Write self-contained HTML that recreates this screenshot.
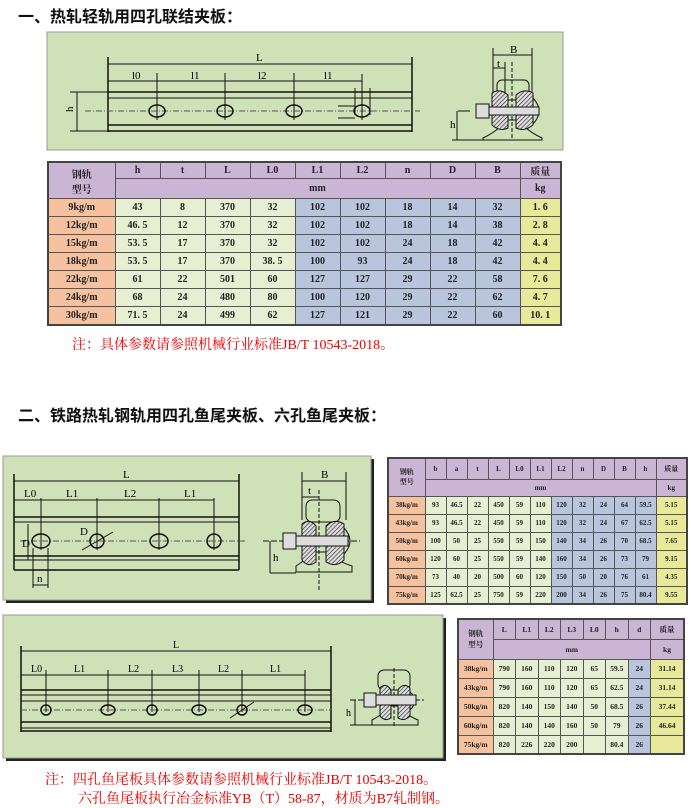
<!DOCTYPE html>
<html><head><meta charset="utf-8"><style>
body{margin:0;width:691px;height:808px;background:#fff;position:relative;overflow:hidden;font-family:"Liberation Serif","Noto Serif CJK SC",serif}
.t{position:absolute;font-family:"Liberation Sans","Noto Sans CJK SC",sans-serif;font-weight:bold;font-size:16px;color:#111;white-space:nowrap}
.n{position:absolute;color:#e00;font-size:14px;white-space:nowrap;font-family:"Liberation Serif","Noto Serif CJK SC",serif}
table{position:absolute;border-collapse:collapse;table-layout:fixed;font-family:"Liberation Serif","Noto Serif CJK SC",serif;font-weight:bold;color:#222;text-align:center}
td{border:1px solid #555;padding:0;overflow:hidden;white-space:nowrap}
.p{background:#cbb5d5}.o{background:#f6c19f}.g{background:#e7efd3}.b{background:#b8c5dd}.y{background:#e9ea99}
#t1{left:47px;top:161px;width:515px;font-size:10px;border:2px solid #444}
#t2{left:387px;top:457px;width:301px;font-size:7px;border:2px solid #444}
#t3{left:457px;top:618px;width:228px;font-size:7.5px;border:2px solid #444}
</style></head><body>
<div class="t" style="left:18px;top:3px">一、热轧轻轨用四孔联结夹板：</div>
<div class="t" style="left:18px;top:402px">二、铁路热轧钢轨用四孔鱼尾夹板、六孔鱼尾夹板：</div>

<svg width="691" height="808" style="position:absolute;left:0;top:0" font-family="Liberation Serif" font-size="10">
<defs><pattern id="h" width="3" height="3" patternUnits="userSpaceOnUse" patternTransform="rotate(45)"><rect width="3" height="3" fill="#ddd"/><line x1="0" y1="0" x2="0" y2="3" stroke="#222" stroke-width="1.2"/></pattern></defs>
<!-- panel 1 -->
<rect x="47" y="32" width="516" height="118" fill="#cfe1b6" stroke="#999"/>
<g stroke="#111" fill="none" stroke-width="1">
<line x1="108" y1="57" x2="108" y2="132" stroke-width="1.5"/><line x1="412" y1="57" x2="412" y2="132" stroke-width="1.5"/>
<line x1="108" y1="64" x2="412" y2="64"/>
<line x1="108" y1="81" x2="362" y2="81"/>
<line x1="108" y1="92" x2="412" y2="92" stroke-width="1.5"/><line x1="108" y1="98" x2="412" y2="98"/>
<line x1="108" y1="125" x2="412" y2="125" stroke-width="1.5"/><line x1="108" y1="131" x2="412" y2="131" stroke-width="1.5"/>
<line x1="70" y1="92" x2="108" y2="92"/><line x1="70" y1="131" x2="108" y2="131"/><line x1="77" y1="92" x2="77" y2="131"/>
<line x1="85" y1="111" x2="420" y2="111" stroke-dasharray="6,2,1,2" stroke="#555"/>
<line x1="157" y1="73" x2="157" y2="120"/><line x1="225" y1="73" x2="225" y2="120"/><line x1="294" y1="73" x2="294" y2="120"/><line x1="362" y1="74" x2="362" y2="120"/>
<ellipse cx="157" cy="111" rx="8" ry="6" stroke-width="1.5"/><ellipse cx="225" cy="111" rx="8" ry="6" stroke-width="1.5"/><ellipse cx="294" cy="111" rx="8" ry="6" stroke-width="1.5"/><ellipse cx="362" cy="111" rx="8" ry="6" stroke-width="1.5"/>
<line x1="355" y1="88" x2="355" y2="115"/><line x1="370" y1="88" x2="370" y2="115"/>
<line x1="338" y1="106" x2="355" y2="106"/><line x1="338" y1="118" x2="355" y2="118"/>
<!-- section 1 -->
<line x1="493" y1="48" x2="493" y2="100"/><line x1="532" y1="48" x2="532" y2="100"/><line x1="493" y1="55" x2="532" y2="55"/>
<line x1="505" y1="62" x2="505" y2="96"/><line x1="493" y1="68" x2="505" y2="68"/>
<line x1="512" y1="62" x2="512" y2="140" stroke-dasharray="4,2"/>
<rect x="497" y="80" width="32" height="20" rx="5"/>
<path d="M483 138 Q500 130 505 120 L520 120 Q525 130 542 138 L542 140 L483 140Z"/>
<line x1="452" y1="140" x2="483" y2="140"/><line x1="458" y1="111" x2="470" y2="111"/><line x1="457" y1="111" x2="457" y2="140"/>
</g>
<path d="M492 93 Q500 88 508 95 L508 128 Q500 132 492 125Z" fill="url(#h)" stroke="#111"/>
<path d="M516 95 Q524 88 533 93 L533 125 Q524 132 516 128Z" fill="url(#h)" stroke="#111"/>
<path d="M533 98 Q545 111 533 124" fill="none" stroke="#111"/>
<rect x="476" y="104" width="13" height="14" fill="#ddd" stroke="#111"/><rect x="489" y="107" width="50" height="8" fill="#ddd" stroke="#111"/>
<g font-size="11"><text x="256" y="61">L</text><text x="132" y="79">l0</text><text x="191" y="79">l1</text><text x="258" y="79">l2</text><text x="324" y="79">l1</text><text x="510" y="53">B</text><text x="497" y="67">t</text><text x="70" y="115" transform="rotate(-90 70 112)">h</text><text x="450" y="128">h</text></g>

<!-- panel 2 -->
<rect x="6" y="459" width="368" height="144" fill="#222"/>
<rect x="3" y="456" width="368" height="144" fill="#cfe1b6" stroke="#999"/>
<g stroke="#111" fill="none">
<line x1="14" y1="474" x2="14" y2="570" stroke-width="1.5"/><line x1="239" y1="474" x2="239" y2="570" stroke-width="1.5"/>
<line x1="14" y1="481" x2="239" y2="481"/><line x1="14" y1="500" x2="214" y2="500"/>
<line x1="14" y1="517" x2="239" y2="517" stroke-width="1.5"/><line x1="14" y1="522" x2="239" y2="522"/>
<line x1="14" y1="556" x2="239" y2="556" stroke-width="1.5"/><line x1="14" y1="560" x2="239" y2="560"/><line x1="14" y1="570" x2="239" y2="570" stroke-width="1.5"/>
<line x1="20" y1="541" x2="245" y2="541" stroke-dasharray="6,2,1,2" stroke="#555"/>
<line x1="41" y1="498" x2="41" y2="550"/><line x1="97" y1="498" x2="97" y2="550"/><line x1="159" y1="498" x2="159" y2="550"/><line x1="214" y1="498" x2="214" y2="550"/>
<ellipse cx="41" cy="541" rx="9" ry="7" stroke-width="1.5"/><circle cx="97" cy="541" r="7" stroke-width="1.5"/><ellipse cx="159" cy="541" rx="9" ry="7" stroke-width="1.5"/><circle cx="214" cy="541" r="7" stroke-width="1.5"/>
<line x1="82" y1="550" x2="113" y2="532"/>
<line x1="28" y1="524" x2="28" y2="560"/><line x1="33" y1="580" x2="33" y2="588"/><line x1="48" y1="548" x2="48" y2="588"/><line x1="33" y1="548" x2="33" y2="588"/><line x1="33" y1="585" x2="48" y2="585"/>
<line x1="302" y1="472" x2="302" y2="520"/><line x1="346" y1="472" x2="346" y2="520"/><line x1="302" y1="481" x2="346" y2="481"/>
<line x1="319" y1="490" x2="319" y2="590" stroke-dasharray="4,2"/><line x1="302" y1="497" x2="319" y2="497"/>
<rect x="306" y="500" width="34" height="22" rx="6"/>
<path d="M296 572 L296 566 Q306 560 312 552 L328 552 Q334 560 352 566 L352 572Z"/>
<line x1="263" y1="541" x2="360" y2="541" stroke-dasharray="6,2"/><line x1="270" y1="573" x2="296" y2="573"/><line x1="270" y1="541" x2="270" y2="573"/>
</g>
<path d="M302 524 Q310 518 316 526 L316 562 Q308 568 302 560Z" fill="url(#h)" stroke="#111"/>
<path d="M326 526 Q334 518 344 524 L344 560 Q336 568 326 562Z" fill="url(#h)" stroke="#111"/>
<path d="M344 528 Q356 541 344 554" fill="none" stroke="#111"/>
<rect x="283" y="533" width="13" height="16" fill="#ddd" stroke="#111"/><rect x="296" y="536" width="52" height="10" fill="#ddd" stroke="#111"/>
<g font-size="11"><text x="123" y="478">L</text><text x="24" y="497">L0</text><text x="66" y="497">L1</text><text x="124" y="497">L2</text><text x="184" y="497">L1</text><text x="321" y="478">B</text><text x="308" y="494">t</text><text x="37" y="582">n</text><text x="80" y="535">D</text><text x="273" y="561">h</text><text x="22" y="547">D</text></g>

<!-- panel 3 -->
<rect x="6" y="618" width="440" height="143" fill="#222"/>
<rect x="3" y="615" width="440" height="143" fill="#cfe1b6" stroke="#999"/>
<g stroke="#111" fill="none">
<line x1="21" y1="646" x2="21" y2="732" stroke-width="1.5"/><line x1="331" y1="646" x2="331" y2="732" stroke-width="1.5"/>
<line x1="21" y1="651" x2="331" y2="651"/><line x1="21" y1="675" x2="305" y2="675"/>
<line x1="21" y1="690" x2="331" y2="690" stroke-width="1.5"/><line x1="21" y1="695" x2="331" y2="695"/><line x1="21" y1="701" x2="331" y2="701"/>
<line x1="21" y1="722" x2="331" y2="722" stroke-width="1.5"/><line x1="21" y1="728" x2="331" y2="728"/><line x1="21" y1="731" x2="331" y2="731" stroke-width="1.5"/>
<line x1="21" y1="710" x2="331" y2="710" stroke-dasharray="6,2,1,2" stroke="#555"/>
<line x1="46" y1="670" x2="46" y2="712"/><line x1="108" y1="670" x2="108" y2="712"/><line x1="152" y1="670" x2="152" y2="712"/><line x1="199" y1="670" x2="199" y2="712"/><line x1="242" y1="670" x2="242" y2="712"/><line x1="305" y1="670" x2="305" y2="712"/>
<circle cx="46" cy="710" r="5" stroke-width="1.5"/><ellipse cx="108" cy="710" rx="7" ry="5" stroke-width="1.5"/><circle cx="152" cy="710" r="5" stroke-width="1.5"/><ellipse cx="199" cy="710" rx="7" ry="5" stroke-width="1.5"/><circle cx="242" cy="710" r="5" stroke-width="1.5"/><ellipse cx="305" cy="710" rx="7" ry="5" stroke-width="1.5"/>
<line x1="230" y1="718" x2="254" y2="702"/>
<rect x="378" y="670" width="32" height="20" rx="6"/>
<line x1="394" y1="668" x2="394" y2="728" stroke-dasharray="4,2"/>
<path d="M372 725 L372 720 Q384 714 388 706 L400 706 Q404 714 418 720 L418 725Z"/>
<line x1="350" y1="700" x2="424" y2="700" stroke-dasharray="6,2"/><line x1="350" y1="725" x2="372" y2="725"/><line x1="355" y1="700" x2="355" y2="725"/>
</g>
<path d="M380 688 Q386 682 391 690 L391 718 Q385 722 380 716Z" fill="url(#h)" stroke="#111"/>
<path d="M398 690 Q403 682 410 688 L410 716 Q404 722 398 718Z" fill="url(#h)" stroke="#111"/>
<path d="M410 692 Q420 700 410 710" fill="none" stroke="#111"/>
<rect x="364" y="693" width="12" height="14" fill="#ddd" stroke="#111"/><rect x="376" y="695" width="40" height="10" fill="#ddd" stroke="#111"/>
<g font-size="10"><text x="173" y="648">L</text><text x="31" y="672">L0</text><text x="74" y="672">L1</text><text x="128" y="672">L2</text><text x="172" y="672">L3</text><text x="218" y="672">L2</text><text x="270" y="672">L1</text><text x="346" y="716">h</text></g>
</svg>

<table id="t1">
<colgroup><col style="width:67px"><col span="9" style="width:45px"><col></colgroup>
<tr style="height:16px"><td class="p" rowspan="2">钢轨<br>型号</td><td class="p">h</td><td class="p">t</td><td class="p">L</td><td class="p">L0</td><td class="p">L1</td><td class="p">L2</td><td class="p">n</td><td class="p">D</td><td class="p">B</td><td class="p">质量</td></tr>
<tr style="height:20px"><td class="p" colspan="9">mm</td><td class="p">kg</td></tr>
<tr style="height:18px"><td class="o">9kg/m</td><td class="g">43</td><td class="g">8</td><td class="g">370</td><td class="g">32</td><td class="b">102</td><td class="b">102</td><td class="b">18</td><td class="b">14</td><td class="b">32</td><td class="y">1. 6</td></tr>
<tr style="height:18px"><td class="o">12kg/m</td><td class="g">46. 5</td><td class="g">12</td><td class="g">370</td><td class="g">32</td><td class="b">102</td><td class="b">102</td><td class="b">18</td><td class="b">14</td><td class="b">38</td><td class="y">2. 8</td></tr>
<tr style="height:18px"><td class="o">15kg/m</td><td class="g">53. 5</td><td class="g">17</td><td class="g">370</td><td class="g">32</td><td class="b">102</td><td class="b">102</td><td class="b">24</td><td class="b">18</td><td class="b">42</td><td class="y">4. 4</td></tr>
<tr style="height:18px"><td class="o">18kg/m</td><td class="g">53. 5</td><td class="g">17</td><td class="g">370</td><td class="g">38. 5</td><td class="b">100</td><td class="b">93</td><td class="b">24</td><td class="b">18</td><td class="b">42</td><td class="y">4. 4</td></tr>
<tr style="height:18px"><td class="o">22kg/m</td><td class="g">61</td><td class="g">22</td><td class="g">501</td><td class="g">60</td><td class="b">127</td><td class="b">127</td><td class="b">29</td><td class="b">22</td><td class="b">58</td><td class="y">7. 6</td></tr>
<tr style="height:18px"><td class="o">24kg/m</td><td class="g">68</td><td class="g">24</td><td class="g">480</td><td class="g">80</td><td class="b">100</td><td class="b">120</td><td class="b">29</td><td class="b">22</td><td class="b">62</td><td class="y">4. 7</td></tr>
<tr style="height:18px"><td class="o">30kg/m</td><td class="g">71. 5</td><td class="g">24</td><td class="g">499</td><td class="g">62</td><td class="b">127</td><td class="b">121</td><td class="b">29</td><td class="b">22</td><td class="b">60</td><td class="y">10. 1</td></tr>
</table>
<div class="n" style="left:72px;top:334px">注：具体参数请参照机械行业标准JB/T 10543-2018。</div>

<table id="t2">
<colgroup><col style="width:37px"><col span="11" style="width:21px"><col></colgroup>
<tr style="height:21px"><td class="p" rowspan="2">钢轨<br>型号</td><td class="p">b</td><td class="p">a</td><td class="p">t</td><td class="p">L</td><td class="p">L0</td><td class="p">L1</td><td class="p">L2</td><td class="p">n</td><td class="p">D</td><td class="p">B</td><td class="p">h</td><td class="p">质量</td></tr>
<tr style="height:17px"><td class="p" colspan="11">mm</td><td class="p">kg</td></tr>
<tr style="height:18px"><td class="o">38kg/m</td><td class="g">93</td><td class="g">46.5</td><td class="g">22</td><td class="g">450</td><td class="g">59</td><td class="g">110</td><td class="b">120</td><td class="b">32</td><td class="b">24</td><td class="b">64</td><td class="b">59.5</td><td class="y">5.15</td></tr>
<tr style="height:18px"><td class="o">43kg/m</td><td class="g">93</td><td class="g">46.5</td><td class="g">22</td><td class="g">450</td><td class="g">59</td><td class="g">110</td><td class="b">120</td><td class="b">32</td><td class="b">24</td><td class="b">67</td><td class="b">62.5</td><td class="y">5.15</td></tr>
<tr style="height:18px"><td class="o">50kg/m</td><td class="g">100</td><td class="g">50</td><td class="g">25</td><td class="g">550</td><td class="g">59</td><td class="g">150</td><td class="b">140</td><td class="b">34</td><td class="b">26</td><td class="b">70</td><td class="b">68.5</td><td class="y">7.65</td></tr>
<tr style="height:18px"><td class="o">60kg/m</td><td class="g">120</td><td class="g">60</td><td class="g">25</td><td class="g">550</td><td class="g">59</td><td class="g">140</td><td class="b">160</td><td class="b">34</td><td class="b">26</td><td class="b">73</td><td class="b">79</td><td class="y">9.15</td></tr>
<tr style="height:18px"><td class="o">70kg/m</td><td class="g">73</td><td class="g">40</td><td class="g">20</td><td class="g">500</td><td class="g">60</td><td class="g">120</td><td class="b">150</td><td class="b">50</td><td class="b">20</td><td class="b">76</td><td class="b">61</td><td class="y">4.35</td></tr>
<tr style="height:18px"><td class="o">75kg/m</td><td class="g">125</td><td class="g">62.5</td><td class="g">25</td><td class="g">750</td><td class="g">59</td><td class="g">220</td><td class="b">200</td><td class="b">34</td><td class="b">26</td><td class="b">75</td><td class="b">80.4</td><td class="y">9.55</td></tr>
</table>

<table id="t3">
<colgroup><col style="width:35px"><col span="7" style="width:22.5px"><col></colgroup>
<tr style="height:20px"><td class="p" rowspan="2">钢轨<br>型号</td><td class="p">L</td><td class="p">L1</td><td class="p">L2</td><td class="p">L3</td><td class="p">L0</td><td class="p">h</td><td class="p">d</td><td class="p">质量</td></tr>
<tr style="height:20px"><td class="p" colspan="7">mm</td><td class="p">kg</td></tr>
<tr style="height:19px"><td class="o">38kg/m</td><td class="g">790</td><td class="g">160</td><td class="g">110</td><td class="g">120</td><td class="g">65</td><td class="g">59.5</td><td class="b">24</td><td class="y">31.14</td></tr>
<tr style="height:19px"><td class="o">43kg/m</td><td class="g">790</td><td class="g">160</td><td class="g">110</td><td class="g">120</td><td class="g">65</td><td class="g">62.5</td><td class="b">24</td><td class="y">31.14</td></tr>
<tr style="height:19px"><td class="o">50kg/m</td><td class="g">820</td><td class="g">140</td><td class="g">150</td><td class="g">140</td><td class="g">50</td><td class="g">68.5</td><td class="b">26</td><td class="y">37.44</td></tr>
<tr style="height:19px"><td class="o">60kg/m</td><td class="g">820</td><td class="g">140</td><td class="g">140</td><td class="g">160</td><td class="g">50</td><td class="g">79</td><td class="b">26</td><td class="y">46.64</td></tr>
<tr style="height:19px"><td class="o">75kg/m</td><td class="g">820</td><td class="g">226</td><td class="g">220</td><td class="g">200</td><td class="g"></td><td class="g">80.4</td><td class="b">26</td><td class="y"></td></tr>
</table>

<div class="n" style="left:45px;top:769px">注：四孔鱼尾板具体参数请参照机械行业标准JB/T 10543-2018。</div>
<div class="n" style="left:78px;top:788px">六孔鱼尾板执行冶金标准YB（T）58-87，材质为B7轧制钢。</div>
</body></html>
